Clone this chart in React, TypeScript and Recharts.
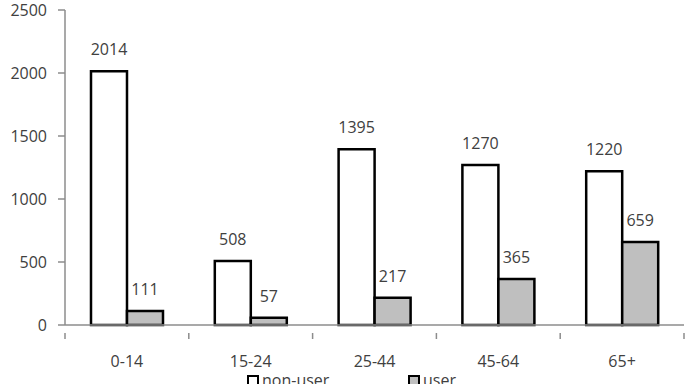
import { BarChart, Bar, XAxis, YAxis, Legend, LabelList } from "recharts"

const ageGroups = ["0-14", "15-24", "25-44", "45-64", "65+"]
const nonUser = [2014, 508, 1395, 1270, 1220]
const user = [111, 57, 217, 365, 659]
const yTicks = [0, 500, 1000, 1500, 2000, 2500]

const data = ageGroups.map((age, i) => ({ age, nonUser: nonUser[i], user: user[i] }))

const W = 691
const H = 384
const LEFT = 65
const RIGHT = 7
const FONT = "'Open Sans', sans-serif"
const TEXT = "#404040"
const AXIS = "#8c8c8c"
const GREY = "#bfbfbf"

const band = (W - LEFT - RIGHT) / ageGroups.length

function AgeTick(props: any) {
  const { x, y, payload, index } = props
  const left = x - band / 2
  return (
    <g>
      <line x1={left} y1={y} x2={left} y2={y + 6} stroke={AXIS} strokeWidth={1.5} />
      {index === ageGroups.length - 1 && (
        <line x1={left + band} y1={y} x2={left + band} y2={y + 6} stroke={AXIS} strokeWidth={1.5} />
      )}
      <text x={x} y={y + 30} textAnchor="middle" dominantBaseline="middle" fill={TEXT} fontSize={16} fontFamily={FONT}>
        {payload.value}
      </text>
    </g>
  )
}

function LegendBox() {
  const item = (fill: string, label: string, left: number) => (
    <div style={{ position: "absolute", left, top: 0, display: "flex", alignItems: "flex-start" }}>
      <span style={{ width: 8, height: 8, marginTop: 3, border: "2px solid #000", background: fill, display: "inline-block" }} />
      <span style={{ marginLeft: 3, fontSize: 16, lineHeight: "16px", color: TEXT, fontFamily: FONT }}>{label}</span>
    </div>
  )
  return (
    <div style={{ position: "relative", width: W, height: 16 }}>
      {item("#fff", "non-user", 247)}
      {item(GREY, "user", 408)}
    </div>
  )
}

export default function App() {
  return (
    <div style={{ width: W, height: H, position: "relative", overflow: "hidden", background: "#fff" }}>
      <style>{"body{margin:0}"}</style>
      <BarChart
        width={W}
        height={H}
        data={data}
        margin={{ top: 10, right: RIGHT, left: 0, bottom: 29 }}
        barCategoryGap="21%"
        barGap={0}
      >
        <XAxis
          dataKey="age"
          height={30}
          axisLine={{ stroke: AXIS, strokeWidth: 1.5 }}
          tickLine={false}
          tick={<AgeTick />}
          interval={0}
        />
        <YAxis
          width={LEFT}
          domain={[0, 2500]}
          ticks={yTicks}
          axisLine={{ stroke: AXIS, strokeWidth: 1.5 }}
          tickLine={{ stroke: AXIS, strokeWidth: 1.5 }}
          tickSize={7}
          tickMargin={11}
          tick={{ fill: TEXT, fontSize: 16, fontFamily: FONT }}
        />
        <Legend
          layout="horizontal"
          verticalAlign="middle"
          align="center"
          wrapperStyle={{ top: 372, left: 0, width: W }}
          content={<LegendBox />}
        />
        <Bar dataKey="nonUser" name="non-user" fill="#fff" stroke="#000" strokeWidth={2.5} isAnimationActive={false}>
          <LabelList dataKey="nonUser" position="top" offset={16} fill={TEXT} fontSize={16} fontFamily={FONT} />
        </Bar>
        <Bar dataKey="user" name="user" fill={GREY} stroke="#000" strokeWidth={2.5} isAnimationActive={false}>
          <LabelList dataKey="user" position="top" offset={16} fill={TEXT} fontSize={16} fontFamily={FONT} />
        </Bar>
      </BarChart>
    </div>
  )
}
